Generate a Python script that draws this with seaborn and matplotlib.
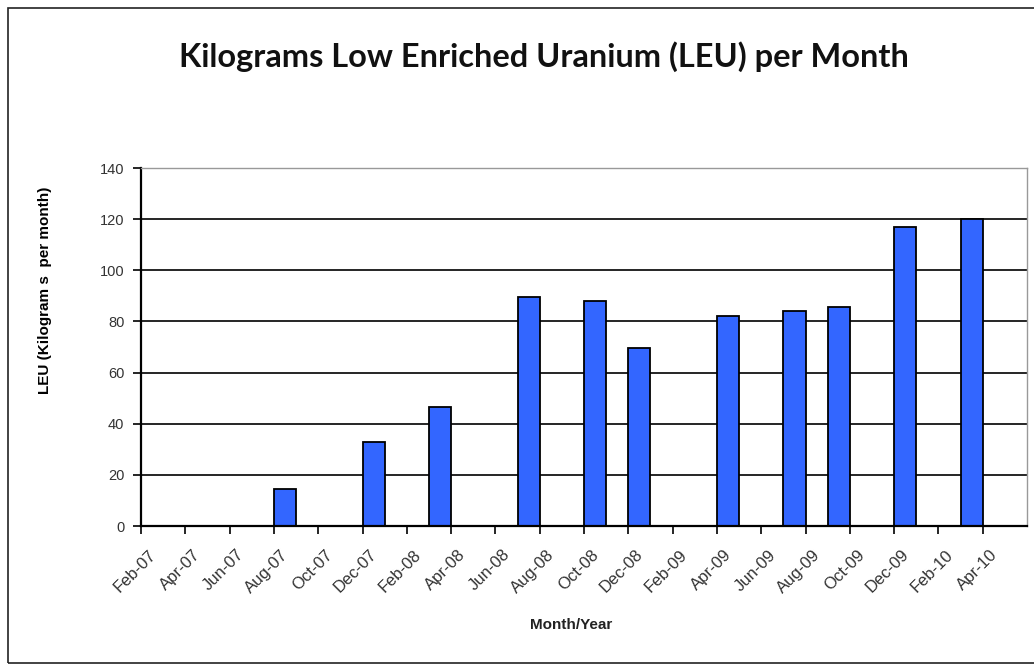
import matplotlib
matplotlib.use("Agg")
import matplotlib.pyplot as plt
from matplotlib.patches import Rectangle
from matplotlib.transforms import ScaledTranslation
import seaborn as sns
import pandas as pd

# Monthly slots on the date axis (Feb-07 .. May-10)
all_months = pd.date_range("2007-02-01", "2010-05-01", freq="MS").strftime("%b-%y").tolist()

# Months with a reported production rate and the rate in kg LEU per month
bar_months = ["Aug-07", "Dec-07", "Mar-08", "Jul-08", "Oct-08", "Dec-08",
              "Apr-09", "Jul-09", "Sep-09", "Dec-09", "Mar-10"]
leu_kg = [14.5, 33, 46.5, 89.5, 88, 69.5, 82, 84, 85.5, 117, 120]

title = "Kilograms Low Enriched Uranium (LEU) per Month"
y_label = "LEU (Kilogram s  per month)"
x_label = "Month/Year"
y_ticks = [0, 20, 40, 60, 80, 100, 120, 140]

df = pd.DataFrame({"month": bar_months, "leu": leu_kg})

sns.set_style("white")
plt.rcParams["font.family"] = ["Liberation Sans", "DejaVu Sans"]

fig = plt.figure(figsize=(10.34, 6.70), dpi=100)
ax = fig.add_axes([141 / 1034, 1 - 526 / 670, 886 / 1034, 358 / 670])

sns.barplot(data=df, x="month", y="leu", order=all_months, color="#3366FF",
            saturation=1, width=1.0, edgecolor="black", linewidth=1.3, ax=ax, zorder=3)

ax.set_xlim(-0.5, len(all_months) - 0.5)
ax.set_ylim(0, 140)

# horizontal gridlines
for v in y_ticks[1:-1]:
    ax.axhline(v, color="black", linewidth=1.2, zorder=1)

# every other month gets a tick at the start of its slot
tick_idx = list(range(0, len(all_months), 2))
tick_pos = [i - 0.5 for i in tick_idx]
ax.set_xticks(tick_pos)
ax.set_xticklabels([])
label_tr = ax.get_xaxis_transform() + ScaledTranslation(7 / 100, -21 / 100, fig.dpi_scale_trans)
for i, p in zip(tick_idx, tick_pos):
    ax.text(p, 0, all_months[i], transform=label_tr, rotation=45,
            ha="right", va="top", rotation_mode="anchor",
            fontsize=12, color="#333333", clip_on=False)

ax.set_yticks(y_ticks)
ax.set_yticklabels([str(v) for v in y_ticks], fontsize=10.5, color="#333333")
ax.tick_params(axis="both", direction="out", length=6, width=1.2, color="black",
               bottom=True, left=True)
ax.tick_params(axis="y", pad=6)

for side in ["top", "right"]:
    ax.spines[side].set_color("#999999")
    ax.spines[side].set_linewidth(1.0)
for side in ["left", "bottom"]:
    ax.spines[side].set_color("black")
    ax.spines[side].set_linewidth(1.6)
ax.spines["bottom"].set_zorder(4)

ax.set_xlabel("")
ax.set_ylabel("")

fig.text(544 / 1034, 1 - 57 / 670, title, ha="center", va="center",
         fontsize=23.4, fontweight="bold", family="Lato", color="#111111")
fig.text(45 / 1034, 1 - 290 / 670, y_label, ha="center", va="center",
         rotation=90, fontsize=11, fontweight="bold", color="black")
fig.text(571 / 1034, 1 - 625 / 670, x_label, ha="center", va="center",
         fontsize=11, fontweight="bold", color="#222222")

# outer chart frame
fig.patches.append(Rectangle((8 / 1034, 7 / 670), 1.05, 1 - 15 / 670,
                             transform=fig.transFigure, fill=False,
                             edgecolor="#222222", linewidth=1.2))

fig.savefig("out.png", dpi=100)
